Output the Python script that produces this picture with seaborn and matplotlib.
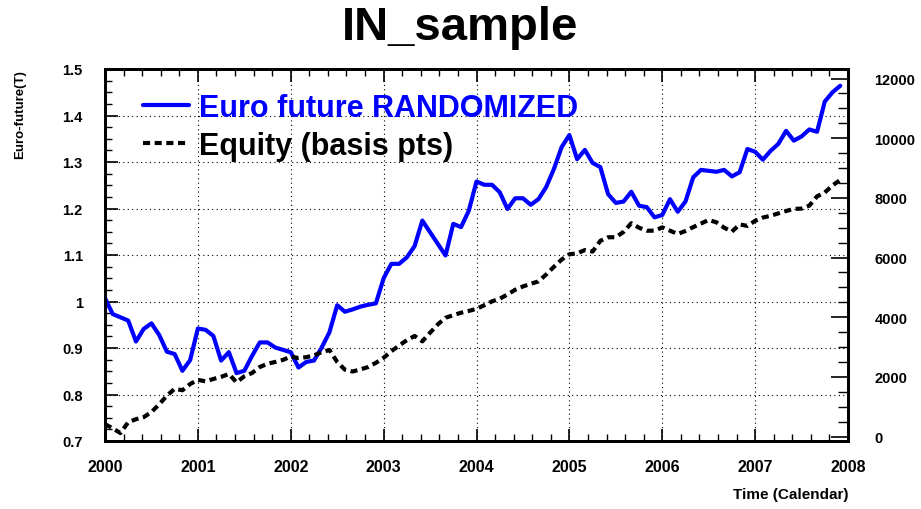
import numpy as np
import pandas as pd
import matplotlib
matplotlib.use("Agg")
import matplotlib.pyplot as plt
from matplotlib.ticker import MultipleLocator
import seaborn as sns

# monthly samples, Jan 2000 .. Dec 2007
months = np.arange(96)
time_years = 2000 + months / 12.0

euro_future = [
    1.007, 0.973, 0.966, 0.959, 0.914, 0.941, 0.953, 0.928, 0.892, 0.887, 0.851, 0.874,
    0.942, 0.939, 0.926, 0.873, 0.891, 0.846, 0.851, 0.883, 0.912, 0.912, 0.901, 0.896,
    0.891, 0.858, 0.870, 0.873, 0.901, 0.934, 0.992, 0.978, 0.983, 0.989, 0.993, 0.996,
    1.050, 1.081, 1.081, 1.095, 1.119, 1.174, 1.149, 1.124, 1.099, 1.167, 1.160, 1.195,
    1.258, 1.251, 1.251, 1.235, 1.199, 1.222, 1.222, 1.208, 1.220, 1.246, 1.285, 1.332,
    1.358, 1.306, 1.326, 1.298, 1.289, 1.231, 1.212, 1.215, 1.236, 1.206, 1.203, 1.181,
    1.186, 1.220, 1.193, 1.215, 1.267, 1.283, 1.281, 1.279, 1.283, 1.269, 1.278, 1.328,
    1.322, 1.305, 1.324, 1.339, 1.367, 1.346, 1.355, 1.370, 1.365, 1.430, 1.450, 1.464,
]

equity_bp = [
    419, 270, 117, 480, 580, 650, 820, 1080, 1370, 1600, 1550, 1760,
    1900, 1850, 1930, 2000, 2095, 1817, 2020, 2130, 2330, 2440, 2500, 2570,
    2680, 2630, 2660, 2720, 2830, 2900, 2500, 2240, 2180, 2250, 2330, 2470,
    2640, 2860, 3050, 3230, 3370, 3190, 3480, 3760, 3980, 4070, 4150, 4210,
    4280, 4400, 4530, 4620, 4760, 4920, 5030, 5120, 5200, 5430, 5690, 5930,
    6110, 6140, 6250, 6200, 6560, 6680, 6680, 6860, 7150, 7000, 6900, 6900,
    7010, 6900, 6790, 6890, 7020, 7140, 7260, 7180, 7000, 6870, 7110, 7060,
    7230, 7340, 7400, 7480, 7560, 7630, 7640, 7740, 8050, 8180, 8420, 8600,
]

year_ticks = list(range(2000, 2009))

df = pd.DataFrame({"time": time_years, "euro": euro_future, "equity": equity_bp})

sns.set_style("white")
plt.rcParams["font.family"] = ["Liberation Sans", "DejaVu Sans"]
plt.rcParams["font.weight"] = "bold"
plt.rcParams["text.color"] = "black"
plt.rcParams["xtick.color"] = "black"
plt.rcParams["ytick.color"] = "black"
plt.rcParams["xtick.labelcolor"] = "black"
plt.rcParams["ytick.labelcolor"] = "black"

fig = plt.figure(figsize=(9.21, 5.10), dpi=100)
ax = fig.add_axes([105 / 921, 1 - 442 / 510, 743 / 921, 372 / 510])
ax2 = ax.twinx()

sns.lineplot(data=df, x="time", y="euro", ax=ax, color="#0000ff", lw=3.0,
             label="Euro future RANDOMIZED", legend=False)
sns.lineplot(data=df, x="time", y="equity", ax=ax2, color="black", lw=3.0,
             label="Equity (basis pts)", legend=False)
ax2.lines[0].set_dashes((1.7, 1.1))

ax.set_xlim(2000, 2008)
ax.set_ylim(0.7, 1.5)
ax2.set_ylim(-150, 12320)

ax.set_xticks(year_ticks)
ax.set_xticklabels([str(y) for y in year_ticks])
ax.xaxis.set_minor_locator(MultipleLocator(0.2))
ax.yaxis.set_minor_locator(MultipleLocator(0.025))
ax.set_yticks([0.7, 0.8, 0.9, 1.0, 1.1, 1.2, 1.3, 1.4, 1.5])
ax.set_yticklabels(["0.7", "0.8", "0.9", "1", "1.1", "1.2", "1.3", "1.4", "1.5"])
ax2.yaxis.set_minor_locator(MultipleLocator(500))
ax2.set_yticks([0, 2000, 4000, 6000, 8000, 10000, 12000])

ax.grid(True, which="major", color="black", linestyle=(0, (1, 3)), lw=0.8)
ax.tick_params(axis="x", which="both", direction="in", top=True, bottom=True,
               labelsize=11.5, pad=13)
ax.tick_params(axis="x", which="major", length=9, width=1.2)
ax.tick_params(axis="x", which="minor", length=5, width=1.0)
ax.tick_params(axis="y", which="both", direction="in", left=True, right=False,
               labelsize=10.5, pad=16)
ax.tick_params(axis="y", which="major", length=9, width=1.2)
ax.tick_params(axis="y", which="minor", length=5, width=1.0)
ax2.tick_params(axis="y", which="both", direction="in", right=True,
                labelsize=10.5, pad=19)
ax2.tick_params(axis="y", which="major", length=12, width=1.2)
ax2.tick_params(axis="y", which="minor", length=7, width=1.0)

for a in (ax, ax2):
    for s in a.spines.values():
        s.set_color("black")
        s.set_linewidth(2.0)

ax.set_xlabel("")
ax.set_ylabel("")
ax2.set_ylabel("")
fig.text(848 / 921, 1 - 495 / 510, "Time (Calendar)", ha="right", va="center",
         fontsize=11, fontweight="bold", color="black")
fig.text(20 / 921, 1 - 70 / 510, "Euro-future(T)", ha="center", va="top",
         rotation=90, fontsize=9.5, fontweight="bold", color="black")
fig.suptitle("IN_sample", x=0.5, y=1 - 28 / 510, va="center",
             fontsize=34, fontweight="bold", color="black")

handles = ax.get_lines()[:1] + ax2.get_lines()[:1]
leg = ax.legend(handles, [h.get_label() for h in handles], loc="upper left",
                bbox_to_anchor=(0.032, 0.975), frameon=False,
                handlelength=1.48, handletextpad=0.33, labelspacing=0.25,
                borderpad=0, borderaxespad=0.48,
                prop={"weight": "bold", "size": 22})
leg.get_texts()[0].set_color("#0000ff")
leg.get_texts()[1].set_color("black")

fig.savefig("out.png", dpi=100)
